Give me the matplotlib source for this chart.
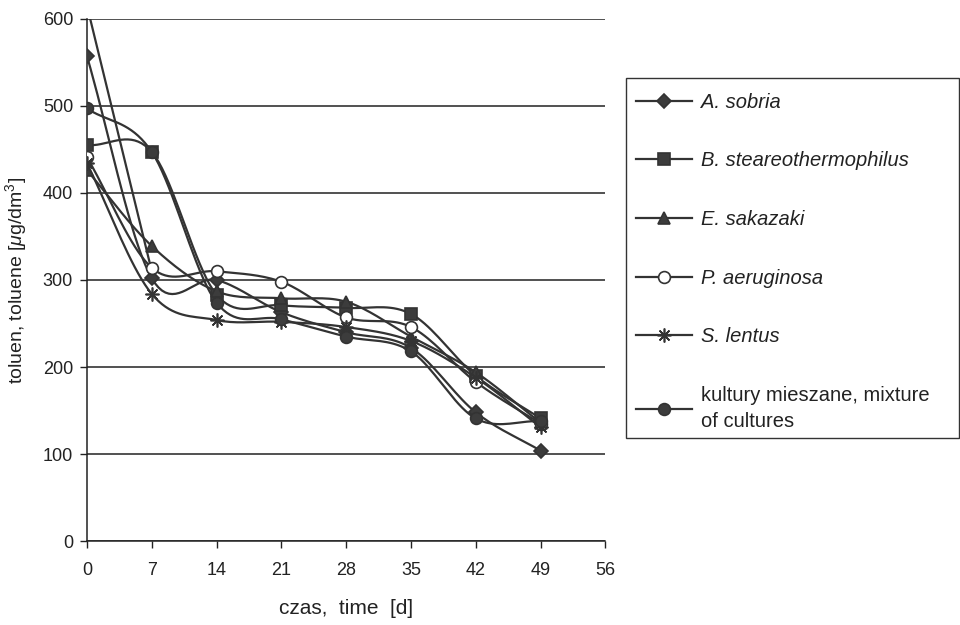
import numpy as np
import matplotlib
matplotlib.use('Agg')
import matplotlib.pyplot as plt
from matplotlib.patches import Rectangle

plt.rcParams['font.family'] = ['Liberation Sans', 'DejaVu Sans']
plt.rcParams['mathtext.fontset'] = 'custom'
plt.rcParams['mathtext.rm'] = 'Liberation Sans'
plt.rcParams['mathtext.it'] = 'Liberation Sans:italic'

# --- Dane ---
days = [0, 7, 14, 21, 28, 35, 42, 49]
a_sobria = [557, 302, 300, 263, 240, 222, 148, 104]
b_stear = [455, 447, 283, 271, 268, 261, 190, 141]
e_sakazaki = [426, 339, 287, 279, 275, 235, 194, 136]
p_aeruginosa = [441, 314, 310, 298, 257, 246, 183, 135]
s_lentus = [434, 284, 254, 252, 246, 230, 188, 131]
mixture = [497, 447, 274, 255, 235, 218, 141, 138]
# linia bez legendy (wychodzi poza zakres osi)
extra_days = [0, 7]
extra_vals = [615, 310]

labels = ['A. sobria', 'B. steareothermophilus', 'E. sakazaki',
          'P. aeruginosa', 'S. lentus', 'kultury mieszane, mixture\nof cultures']
series = [a_sobria, b_stear, e_sakazaki, p_aeruginosa, s_lentus, mixture]
markers = ['D', 's', '^', 'o', (8, 2, 0), 'o']
msizes = [7.5, 8.5, 8.5, 8.5, 10, 8.5]
faces = ['#3c3c3c', '#3c3c3c', '#3c3c3c', 'white', '#3c3c3c', '#3c3c3c']

LINE = '#333333'


def smooth(x, y, n=20):
    # krzywa Catmull-Rom (jak "wygładzona linia" w Excelu)
    x = np.asarray(x, float)
    y = np.asarray(y, float)
    px = np.concatenate([[2 * x[0] - x[1]], x, [2 * x[-1] - x[-2]]])
    py = np.concatenate([[2 * y[0] - y[1]], y, [2 * y[-1] - y[-2]]])
    xs, ys = [], []
    t = np.linspace(0, 1, n)
    for i in range(1, len(px) - 2):
        for p, out in ((px, xs), (py, ys)):
            p0, p1, p2, p3 = p[i - 1], p[i], p[i + 1], p[i + 2]
            out.extend(0.5 * ((2 * p1) + (-p0 + p2) * t
                              + (2 * p0 - 5 * p1 + 4 * p2 - p3) * t ** 2
                              + (-p0 + 3 * p1 - 3 * p2 + p3) * t ** 3))
    return np.array(xs), np.array(ys)


fig = plt.figure(figsize=(9.6, 6.25), dpi=100)
ax = fig.add_axes([0.0906, 0.134, 0.540, 0.836])

for vals, lab, m, ms, fc in zip(series, labels, markers, msizes, faces):
    sx, sy = smooth(days, vals)
    ax.plot(sx, sy, color=LINE, lw=1.6, zorder=2)
    ax.plot(days, vals, ls='none', marker=m, ms=ms, mfc=fc, mec=LINE, mew=1.2, zorder=3)
    # uchwyt legendy
    ax.plot([], [], color=LINE, lw=1.6, marker=m, ms=ms, mfc=fc, mec=LINE, mew=1.2, label=lab)

ax.plot(extra_days, extra_vals, color=LINE, lw=1.6, zorder=2)

ax.set_xlim(0, 56)
ax.set_ylim(0, 600)
ax.set_xticks(range(0, 57, 7))
ax.set_yticks(range(0, 601, 100))
ax.tick_params(direction='out', length=5, width=1, labelsize=13, colors='#222222')
ax.tick_params(axis='x', pad=10)
ax.tick_params(axis='y', pad=5)
ax.yaxis.grid(True, color='#222222', lw=1.1)
ax.set_axisbelow(True)
for s in ['top', 'right']:
    ax.spines[s].set_visible(False)
for s in ['left', 'bottom']:
    ax.spines[s].set_color('#222222')
    ax.spines[s].set_linewidth(1.1)

ax.set_xlabel('czas,  time  [d]', fontsize=15, labelpad=14, color='#222222')
ax.set_ylabel('toluen, toluene [$\\mu$g/dm$^3$]', fontsize=14, labelpad=10, color='#222222')

# ramka legendy do prawej krawędzi
fig.patches.append(Rectangle((626 / 960, 187 / 625), 333 / 960, 360 / 625,
                             transform=fig.transFigure, fill=False,
                             edgecolor='#333333', lw=1.0))

leg = fig.legend(loc='upper left', bbox_to_anchor=(0.652, 0.868), fontsize=14.5,
                 frameon=False, labelspacing=1.97, handlelength=2.8, handletextpad=0.45,
                 borderpad=0.5, borderaxespad=0)
for i, txt in enumerate(leg.get_texts()):
    txt.set_color('#222222')
    if i < 5:
        txt.set_fontstyle('italic')
    else:
        txt.set_linespacing(1.45)

fig.savefig('out.png', dpi=100, facecolor='white')
